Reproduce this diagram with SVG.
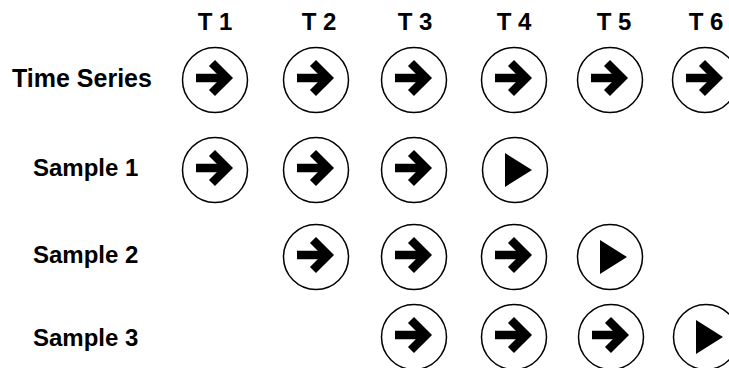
<svg xmlns="http://www.w3.org/2000/svg" xmlns:xlink="http://www.w3.org/1999/xlink" width="729" height="368" viewBox="0 0 729 368">
<style>
.lbl{font-family:"Liberation Sans",Arial,sans-serif;font-weight:bold;font-size:24px;fill:#000}
.t{text-anchor:middle}
.ring{fill:#fff;stroke:#000;stroke-width:1.5}
.arr{fill:none;stroke:#000;stroke-width:8.5;stroke-linejoin:miter;stroke-linecap:butt}
</style>
<defs>
<g id="go">
<circle class="ring" r="32.5"/>
<path class="arr" d="M-19,-2 H12"/>
<path class="arr" d="M-3,-17 L12,-2 L-3,13"/>
</g>
<g id="stop">
<circle class="ring" r="32.5"/>
<polygon points="-10,-17 17,0 -10,17" fill="#000"/>
</g>
</defs>
<rect width="729" height="368" fill="#fff"/>
<g id="headers">
<text class="lbl t" x="215" y="30">T 1</text>
<text class="lbl t" x="319" y="30">T 2</text>
<text class="lbl t" x="415" y="30">T 3</text>
<text class="lbl t" x="514" y="30">T 4</text>
<text class="lbl t" x="614" y="30">T 5</text>
<text class="lbl t" x="706" y="30">T 6</text>
</g>
<g id="row-labels">
<text class="lbl" x="12" y="87" style="font-size:25px">Time Series</text>
<text class="lbl" x="33" y="176">Sample 1</text>
<text class="lbl" x="33" y="263">Sample 2</text>
<text class="lbl" x="33" y="346">Sample 3</text>
</g>
<g id="time-series">
<use xlink:href="#go" x="215" y="80"/>
<use xlink:href="#go" x="316" y="80"/>
<use xlink:href="#go" x="414" y="80"/>
<use xlink:href="#go" x="514" y="80"/>
<use xlink:href="#go" x="610" y="80"/>
<use xlink:href="#go" x="705" y="80"/>
</g>
<g id="sample-1">
<use xlink:href="#go" x="215" y="170"/>
<use xlink:href="#go" x="316" y="170"/>
<use xlink:href="#go" x="414" y="170"/>
<use xlink:href="#stop" x="515" y="170"/>
</g>
<g id="sample-2">
<use xlink:href="#go" x="316" y="257"/>
<use xlink:href="#go" x="414" y="257"/>
<use xlink:href="#go" x="514" y="257"/>
<use xlink:href="#stop" x="610" y="257"/>
</g>
<g id="sample-3">
<use xlink:href="#go" x="414" y="337"/>
<use xlink:href="#go" x="514" y="337"/>
<use xlink:href="#go" x="611" y="337"/>
<use xlink:href="#stop" x="706" y="337"/>
</g>
<g id="connectors"></g>
</svg>
